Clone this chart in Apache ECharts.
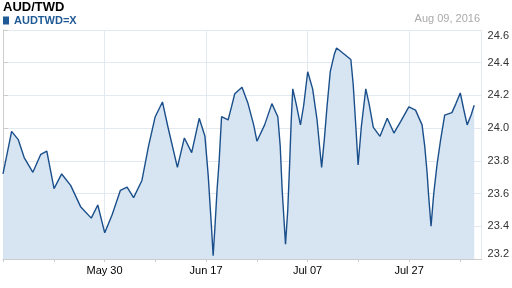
<!DOCTYPE html>
<html>
<head>
<meta charset="utf-8">
<script src="https://cdn.jsdelivr.net/npm/echarts@6/dist/echarts.min.js"></script>
<style>html,body{margin:0;padding:0;background:#fff}#c{width:512px;height:288px}</style>
</head>
<body>
<div id="c"></div>
<script>
// trading-day offsets from May 10, 2016 (weekdays only)
const days = [0, 0.64, 1.19, 2.10, 2.92, 4.12, 5.21, 6.04, 7.04, 8.09, 9.33, 10.70, 12.17, 13.07,
  14.03, 15.05, 16.19, 17.11, 18.01, 19.16, 20.07, 20.99, 21.99, 22.73, 24.05, 25.01, 26.02, 27.06,
  27.85, 28.30, 28.77, 28.98, 29.22, 29.53, 29.81, 30.14, 31.04, 31.51, 31.96, 32.96, 33.79, 34.57,
  35.02, 36.08, 37.08, 37.90, 38.23, 38.50, 38.96, 39.27, 39.51, 39.74, 39.96, 40.42, 41.02, 41.47,
  42.02, 42.70, 43.31, 43.72, 43.94, 44.31, 44.68, 45.13, 45.68, 46.0, 47.97, 48.29, 48.66, 48.97,
  49.42, 50.03, 50.48, 51.07, 51.99, 52.99, 53.91, 54.83, 55.97, 56.89, 57.79, 58.16, 58.48, 58.71,
  59.03, 59.40, 59.85, 60.32, 60.91, 61.91, 62.46, 63.06, 63.51, 64.01, 64.56, 64.98];
const rates = [23.72, 23.86, 23.98, 23.93, 23.82, 23.73, 23.84, 23.86, 23.63, 23.72, 23.65, 23.52, 23.45, 23.53,
  23.36, 23.47, 23.62, 23.64, 23.575, 23.68, 23.89, 24.07, 24.16, 24.01, 23.76, 23.94, 23.85, 24.06,
  23.95, 23.71, 23.38, 23.22, 23.39, 23.63, 23.80, 24.07, 24.05, 24.13, 24.21, 24.25, 24.15, 24.02,
  23.92, 24.02, 24.15, 24.07, 23.89, 23.62, 23.29, 23.50, 23.76, 24.04, 24.24, 24.15, 24.02, 24.14,
  24.345, 24.24, 24.05, 23.86, 23.76, 23.93, 24.13, 24.345, 24.45, 24.49, 24.42, 24.27, 24.01, 23.775,
  24.01, 24.24, 24.15, 24.005, 23.95, 24.06, 23.97, 24.04, 24.13, 24.11, 24.02, 23.89, 23.73, 23.58,
  23.40, 23.60, 23.775, 23.92, 24.08, 24.095, 24.15, 24.215, 24.12, 24.02, 24.08, 24.14];
const tickDays = [14, 28, 42, 56];
const tickLabels = ['May 30', 'Jun 17', 'Jul 07', 'Jul 27'];
const yTicks = [23.2, 23.4, 23.6, 23.8, 24.0, 24.2, 24.4, 24.6];

const FONT = 'Liberation Sans, Arial, sans-serif';
const chart = echarts.init(document.getElementById('c'), null, {renderer: 'canvas'});
const data = days.map((d, i) => [d, rates[i]]);
chart.setOption({
  animation: false,
  backgroundColor: '#fff',
  title: [
    {text: 'AUD/TWD', left: 3, top: 1, padding: 0,
     textStyle: {fontFamily: FONT, fontSize: 13, fontWeight: 'bold', color: '#000'}},
    {text: 'Aug 09, 2016', right: 32, top: 13, padding: 0,
     textStyle: {fontFamily: FONT, fontSize: 11, fontWeight: 'normal', color: '#aaa'}}
  ],
  legend: {
    left: 3, top: 15, padding: 0, itemGap: 0,
    icon: 'rect', itemWidth: 6, itemHeight: 8,
    textStyle: {fontFamily: FONT, fontSize: 11, fontWeight: 'bold', color: '#1f5a96', padding: [0, 0, 0, 0]},
    data: ['AUDTWD=X']
  },
  grid: {left: 2, right: 29, top: 30, bottom: 29},
  xAxis: [
    {type: 'value', min: 0, max: 66, interval: 7,
     axisLine: {show: true, lineStyle: {color: '#ccc'}},
     axisTick: {show: true, length: 3, lineStyle: {color: '#ccc'}},
     axisLabel: {margin: 6, fontFamily: FONT, fontSize: 11, color: '#000',
       showMinLabel: true, showMaxLabel: false,
       formatter: v => { const i = tickDays.indexOf(v); return i >= 0 ? tickLabels[i] : ''; }},
     splitLine: {show: false}},
    {type: 'value', min: 0, max: 66, interval: 14, position: 'bottom',
     axisLine: {show: false}, axisTick: {show: false}, axisLabel: {show: false},
     splitLine: {show: true, lineStyle: {color: '#e3e9f0', width: 1}}}
  ],
  yAxis: {
    type: 'value', position: 'right', min: yTicks[0], max: yTicks[yTicks.length - 1], interval: 0.2,
    axisLine: {show: true, lineStyle: {color: '#ccc'}},
    axisTick: {show: true, length: 5, lineStyle: {color: '#ccc'}},
    axisLabel: {margin: 6, fontFamily: FONT, fontSize: 11, color: '#333',
      verticalAlignMinLabel: 'bottom', verticalAlignMaxLabel: 'top',
      formatter: v => v.toFixed(1)},
    splitLine: {show: true, lineStyle: {color: '#e3e9f0', width: 1}}
  },
  graphic: [
    {type: 'text', left: 6, top: 244, style: {text: '© Yahoo!', font: '11px ' + FONT, fill: '#666'}}
  ],
  series: [{
    name: 'AUDTWD=X', type: 'line', data: data, showSymbol: false, symbol: 'none',
    lineStyle: {color: '#1a4f8c', width: 1.4},
    itemStyle: {color: '#1f5a96'},
    areaStyle: {color: '#d6e5f1', origin: 'start', opacity: 1}
  }]
});
</script>
</body>
</html>
